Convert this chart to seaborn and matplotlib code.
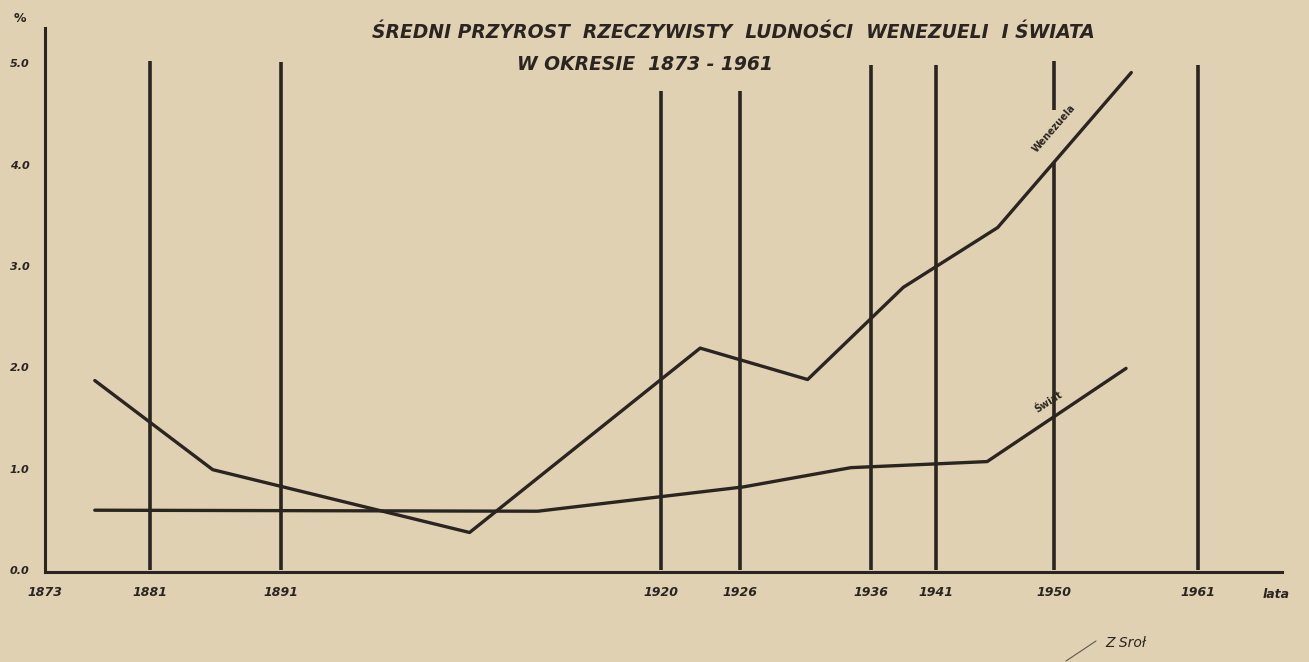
import numpy as np
import pandas as pd
import matplotlib
matplotlib.use("Agg")
import matplotlib.pyplot as plt
import seaborn as sns

# ----------------------------------------------------
# data (mean yearly growth, %)
# ----------------------------------------------------
ven_years = [1876.8, 1885.8, 1905.4, 1923.0, 1931.2, 1938.5, 1945.7, 1955.9]
ven_values = [1.87, 0.99, 0.37, 2.19, 1.88, 2.79, 3.38, 4.91]

world_years = [1876.8, 1910.6, 1926.3, 1934.5, 1944.9, 1955.5]
world_values = [0.59, 0.58, 0.82, 1.01, 1.07, 1.99]

census_years = [1873, 1881, 1891, 1920, 1926, 1936, 1941, 1950, 1961]
y_ticks = [0, 1, 2, 3, 4, 5]
y_labels = ["0.0", "1.0", "2.0", "3.0", "4.0", "5.0"]

# vertical census lines (x, bottom, top) - 1950 line is broken near the top
grid_x = [1881, 1891, 1920, 1926, 1936, 1941, 1950, 1950, 1961]
grid_lo = [0, 0, 0, 0, 0, 0, 0, 4.54, 0]
grid_hi = [5.02, 5.01, 4.73, 4.73, 4.98, 4.98, 4.03, 5.02, 4.98]

df = pd.concat([
    pd.DataFrame({"rok": ven_years, "przyrost": ven_values, "seria": "Wenezuela"}),
    pd.DataFrame({"rok": world_years, "przyrost": world_values, "seria": "Świat"}),
])

paper = "#e0d1b3"
ink = "#2a2521"

sns.set_theme(style="white", rc={"axes.facecolor": paper, "figure.facecolor": paper})
plt.rcParams["font.family"] = ["DejaVu Sans"]

fig = plt.figure(figsize=(13.09, 6.62), dpi=100)
ax = fig.add_axes([45 / 1309, 90 / 662, 1237 / 1309, 544 / 662])

ax.vlines(grid_x, grid_lo, grid_hi, color=ink, lw=2.6, zorder=1)

sns.lineplot(data=df, x="rok", y="przyrost", hue="seria", units="seria", estimator=None,
             palette={"Wenezuela": ink, "Świat": ink}, lw=2.4, legend=False, ax=ax, zorder=3,
             solid_capstyle="round")

ax.set_xlim(1873, 1967.4)
ax.set_ylim(-0.02, 5.35)

for side in ["top", "right"]:
    ax.spines[side].set_visible(False)
for side in ["left", "bottom"]:
    ax.spines[side].set_color(ink)
    ax.spines[side].set_linewidth(2.2)

ax.set_xticks(census_years)
ax.set_xticklabels([str(y) for y in census_years], fontsize=9, fontweight="bold",
                   fontstyle="italic", color=ink)
ax.set_yticks(y_ticks)
ax.set_yticklabels(y_labels, fontsize=8, fontweight="bold", fontstyle="italic", color=ink)
ax.tick_params(axis="x", length=0, pad=10)
ax.tick_params(axis="y", length=3, width=1, color=ink, pad=8)
ax.set_xlabel("")
ax.set_ylabel("")

# line labels written along the curves
ax.text(1950.0, 4.36, "Wenezuela", rotation=49, fontsize=7, fontweight="bold",
        color=ink, ha="center", va="center")
ax.text(1949.6, 1.66, "Świat", rotation=33, fontsize=7, fontweight="bold",
        color=ink, ha="center", va="center")

# titles and loose annotations
fig.text(733 / 1309, 1 - 32 / 662, "ŚREDNI PRZYROST  RZECZYWISTY  LUDNOŚCI  WENEZUELI  I ŚWIATA",
         fontsize=13.5, fontweight="bold", fontstyle="italic", color=ink, ha="center", va="center")
fig.text(645 / 1309, 1 - 65 / 662, "W OKRESIE  1873 - 1961",
         fontsize=13.5, fontweight="bold", fontstyle="italic", color=ink, ha="center", va="center")
fig.text(20 / 1309, 1 - 18 / 662, "%", fontsize=9, fontweight="bold", color=ink,
         ha="center", va="center")
fig.text(1276 / 1309, 1 - 595 / 662, "lata", fontsize=9, fontweight="bold",
         fontstyle="italic", color=ink, ha="center", va="center")
fig.text(1126 / 1309, 1 - 643 / 662, "Z Sroł", fontsize=10, fontstyle="italic",
         color=ink, ha="center", va="center")
fig.add_artist(plt.Line2D([1066 / 1309, 1096 / 1309], [1 - 661 / 662, 1 - 641 / 662],
                          color=ink, lw=0.8, alpha=0.7))

fig.savefig("out.png", dpi=100, facecolor=paper)
